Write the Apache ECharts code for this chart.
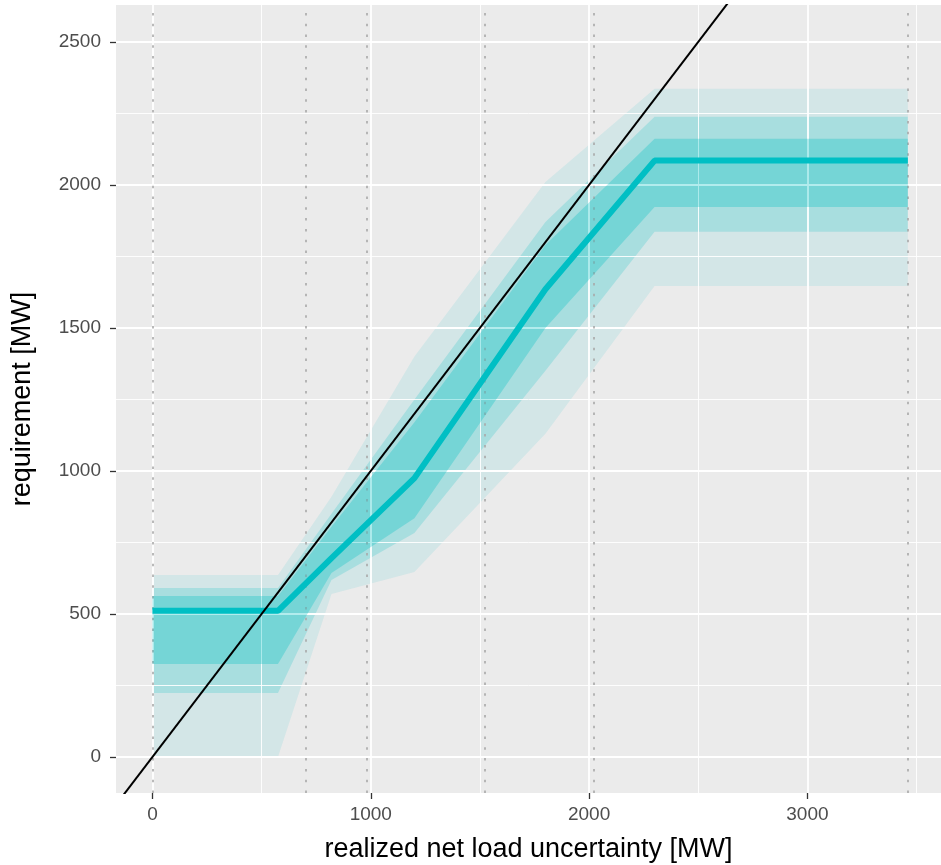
<!DOCTYPE html>
<html><head><meta charset="utf-8">
<script src="https://cdn.jsdelivr.net/npm/echarts@6/dist/echarts.min.js"></script>
<style>html,body{margin:0;padding:0;background:#fff}#c{width:941px;height:865px}</style>
</head><body><div id="c"></div>
<script>
const xKnots    = [0, 575, 820, 1200, 1800, 2300, 3460];
const center    = [511, 511, 695, 975, 1635, 2085, 2085];
const innerLow  = [325, 325, 643, 835, 1500, 1923, 1923];
const innerHigh = [563, 563, 805, 1170, 1790, 2161, 2161];
const midLow    = [224, 224, 619, 783, 1350, 1836, 1836];
const midHigh   = [591, 591, 850, 1250, 1870, 2238, 2238];
const outerLow  = [0, 0, 570, 647, 1130, 1647, 1647];
const outerHigh = [636, 636, 910, 1400, 2010, 2336, 2336];
const dottedX   = [0, 701, 980, 1521, 2020, 3459];
const xMajor = [0, 1000, 2000, 3000];
const xMinor = [500, 1500, 2500, 3500];
const yMajor = [0, 500, 1000, 1500, 2000, 2500];
const yMinor = [250, 750, 1250, 1750, 2250];
const identityX = [-200, 2700];

const FONT = 'Liberation Sans, Arial, sans-serif';
const TEAL = '0,191,196';

function band(lo, hi, alpha, z) {
  return {
    type: 'custom', coordinateSystem: 'cartesian2d', silent: true, z: z, clip: true,
    data: [[xKnots[0], lo[0]]],
    renderItem: function (params, api) {
      const pts = [];
      for (let i = 0; i < xKnots.length; i++) pts.push(api.coord([xKnots[i], hi[i]]));
      for (let i = xKnots.length - 1; i >= 0; i--) pts.push(api.coord([xKnots[i], lo[i]]));
      return { type: 'polygon', shape: { points: pts }, style: { fill: 'rgba(' + TEAL + ',' + alpha + ')' } };
    }
  };
}
function gridLines(xs, ys, width, z) {
  return {
    type: 'line', data: [], silent: true, z: z,
    markLine: {
      silent: true, symbol: ['none', 'none'], animation: false, label: { show: false },
      lineStyle: { color: '#ffffff', width: width, type: 'solid' },
      data: xs.map(v => ({ xAxis: v })).concat(ys.map(v => ({ yAxis: v })))
    }
  };
}
const plain = v => String(v);

const chart = echarts.init(document.getElementById('c'), null, { renderer: 'canvas' });
chart.setOption({
  animation: false,
  backgroundColor: '#ffffff',
  grid: { left: 116, top: 5, width: 825, height: 788, show: true, backgroundColor: '#EBEBEB', borderWidth: 0, outerBoundsMode: 'none', containLabel: false },
  xAxis: {
    type: 'value', min: -167, max: 3612, splitNumber: 4,
    axisLine: { show: false, onZero: false },
    axisTick: { show: true, length: 6, lineStyle: { color: '#333333', width: 1.3 }, customValues: xMajor },
    axisLabel: { customValues: xMajor, formatter: plain, color: '#4d4d4d', fontSize: 19, margin: 12, fontFamily: FONT },
    splitLine: { show: false },
    name: 'realized net load uncertainty [MW]', nameLocation: 'middle', nameGap: 43,
    nameTextStyle: { fontSize: 27, color: '#000000', fontFamily: FONT }
  },
  yAxis: {
    type: 'value', min: -126, max: 2629, splitNumber: 5,
    axisLine: { show: false, onZero: false },
    axisTick: { show: true, length: 6, lineStyle: { color: '#333333', width: 1.3 }, customValues: yMajor },
    axisLabel: { customValues: yMajor, formatter: plain, color: '#4d4d4d', fontSize: 19, margin: 15, fontFamily: FONT },
    splitLine: { show: false },
    name: 'requirement [MW]', nameLocation: 'middle', nameGap: 80,
    nameTextStyle: { fontSize: 27, color: '#000000', fontFamily: FONT }
  },
  series: [
    gridLines(xMinor, yMinor, 0.9, 1),
    gridLines(xMajor, yMajor, 1.8, 1),
    {
      type: 'line', data: [], silent: true, z: 2,
      markLine: {
        silent: true, symbol: ['none', 'none'], animation: false, label: { show: false },
        lineStyle: { color: '#a8a8a8', width: 1.6, type: [2.5, 8.3] },
        data: dottedX.map(v => ({ xAxis: v }))
      }
    },
    band(outerLow, outerHigh, 0.1, 3),
    band(midLow, midHigh, 0.2, 4),
    band(innerLow, innerHigh, 0.3, 5),
    {
      type: 'line', z: 6, silent: true, symbol: 'none',
      data: xKnots.map((x, i) => [x, center[i]]),
      lineStyle: { color: '#00BFC4', width: 6 }
    },
    {
      type: 'line', z: 7, silent: true, symbol: 'none', clip: true,
      data: identityX.map(x => [x, x]),
      lineStyle: { color: '#000000', width: 2 }
    }
  ]
});
</script></body></html>
